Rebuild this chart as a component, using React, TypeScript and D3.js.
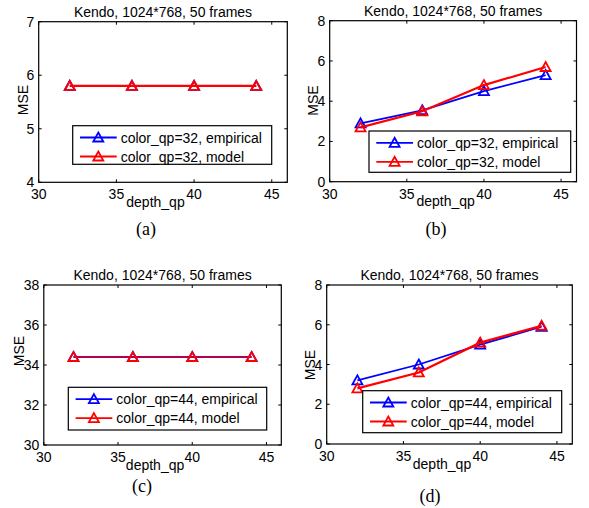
import React, { useEffect, useRef } from 'react';
import * as d3 from 'd3';

const DEPTH_QP = [32, 36, 40, 44];
const X_TICKS = [30, 35, 40, 45];

const EMPIRICAL_A = [5.8, 5.8, 5.8, 5.8];
const MODEL_A = [5.8, 5.8, 5.8, 5.8];
const EMPIRICAL_B = [2.9, 3.55, 4.5, 5.3];
const MODEL_B = [2.7, 3.5, 4.8, 5.7];
const EMPIRICAL_C = [34.4, 34.4, 34.4, 34.4];
const MODEL_C = [34.4, 34.4, 34.4, 34.4];
const EMPIRICAL_D = [3.2, 4.0, 5.0, 5.9];
const MODEL_D = [2.8, 3.6, 5.1, 5.95];

const Y_TICKS_A = [4, 5, 6, 7];
const Y_TICKS_B = [0, 2, 4, 6, 8];
const Y_TICKS_C = [30, 32, 34, 36, 38];
const Y_TICKS_D = [0, 2, 4, 6, 8];

const TITLE = "Kendo, 1024*768, 50 frames";
const X_LABEL = "depth_qp";
const Y_LABEL = "MSE";
const LEGEND_32 = ["color_qp=32, empirical", "color_qp=32, model"];
const LEGEND_44 = ["color_qp=44, empirical", "color_qp=44, model"];

// measured layout of each subplot (pixels)
const PANELS = [
    { empirical: EMPIRICAL_A, model: MODEL_A, yTicks: Y_TICKS_A, legend: LEGEND_32, caption: "(a)",
      box: [38.7, 21.7, 287.3, 182.3], leg: [72.7, 125.7, 271.7, 164.3], ylab: [27.8, 100], cap: [146, 235], modelOpacity: 1 },
    { empirical: EMPIRICAL_B, model: MODEL_B, yTicks: Y_TICKS_B, legend: LEGEND_32, caption: "(b)",
      box: [329.7, 20.7, 576.5, 181.7], leg: [369, 131, 570.7, 172.3], ylab: [317.5, 100.5], cap: [436, 235], modelOpacity: 1 },
    { empirical: EMPIRICAL_C, model: MODEL_C, yTicks: Y_TICKS_C, legend: LEGEND_44, caption: "(c)",
      box: [43.8, 285, 281.3, 445], leg: [68.3, 387.3, 266.7, 430], ylab: [24, 351], cap: [142, 492], modelOpacity: 0.7 },
    { empirical: EMPIRICAL_D, model: MODEL_D, yTicks: Y_TICKS_D, legend: LEGEND_44, caption: "(d)",
      box: [326.7, 285, 572.3, 444], leg: [362.7, 390.7, 561.7, 432.7], ylab: [314.5, 365], cap: [430, 502], modelOpacity: 1 },
];

const BLUE = "#0000ff";
const RED = "#ff0000";

function drawTriangle(g, cx, cy, color) {
    const s = 5;
    g.append("path")
        .attr("d", `M${cx},${cy - s} L${cx + s},${cy + s * 0.8} L${cx - s},${cy + s * 0.8} Z`)
        .attr("fill", "none")
        .attr("stroke", color)
        .attr("stroke-width", 1.8);
}

function App() {
    const svgRef = useRef(null);

    useEffect(() => {
        const svg = d3.select(svgRef.current);
        svg.selectAll("*").remove();

        PANELS.forEach(p => {
            const [x0, y0, x1, y1] = p.box;
            const yDomain = d3.extent(p.yTicks);
            const xScale = d3.scaleLinear().domain([30, 46]).range([x0, x1]);
            const yScale = d3.scaleLinear().domain(yDomain).range([y1, y0]);
            const g = svg.append("g");

            // ticks on all four sides, pointing inward
            X_TICKS.forEach(t => {
                const x = xScale(t);
                g.append("line").attr("x1", x).attr("x2", x).attr("y1", y1).attr("y2", y1 - 3)
                    .attr("stroke", "#000").attr("stroke-width", 1);
                g.append("line").attr("x1", x).attr("x2", x).attr("y1", y0).attr("y2", y0 + 3)
                    .attr("stroke", "#000").attr("stroke-width", 1);
                g.append("text").attr("x", x).attr("y", y1 + 17)
                    .attr("text-anchor", "middle").style("font-size", "14px").text(t);
            });
            p.yTicks.forEach(t => {
                const y = yScale(t);
                g.append("line").attr("x1", x0).attr("x2", x0 + 3).attr("y1", y).attr("y2", y)
                    .attr("stroke", "#000").attr("stroke-width", 1);
                g.append("line").attr("x1", x1).attr("x2", x1 - 3).attr("y1", y).attr("y2", y)
                    .attr("stroke", "#000").attr("stroke-width", 1);
                g.append("text").attr("x", x0 - 4.5).attr("y", y).attr("dy", "0.36em")
                    .attr("text-anchor", "end").style("font-size", "14px").text(t);
            });

            g.append("rect").attr("x", x0).attr("y", y0)
                .attr("width", x1 - x0).attr("height", y1 - y0)
                .attr("fill", "none").attr("stroke", "#000").attr("stroke-width", 1.2);

            const line = d3.line()
                .x((d, i) => xScale(DEPTH_QP[i]))
                .y(d => yScale(d));

            g.append("path").datum(p.empirical).attr("d", line)
                .attr("fill", "none").attr("stroke", BLUE).attr("stroke-width", 1.8);
            p.empirical.forEach((v, i) => drawTriangle(g, xScale(DEPTH_QP[i]), yScale(v), BLUE));

            g.append("path").datum(p.model).attr("d", line)
                .attr("fill", "none").attr("stroke", RED)
                .attr("stroke-width", p.modelOpacity < 1 ? 1.8 : 2.2)
                .attr("stroke-opacity", p.modelOpacity);
            p.model.forEach((v, i) => drawTriangle(g, xScale(DEPTH_QP[i]), yScale(v), RED));

            // title and axis labels
            g.append("text").attr("x", (x0 + x1) / 2).attr("y", y0 - 4.8)
                .attr("text-anchor", "middle").style("font-size", "14px").text(TITLE);
            g.append("text").attr("x", (x0 + x1) / 2 - 7.5).attr("y", y1 + 24.5)
                .attr("text-anchor", "middle").style("font-size", "14px").text(X_LABEL);
            g.append("text")
                .attr("transform", `translate(${p.ylab[0]},${p.ylab[1]}) rotate(-90)`)
                .attr("text-anchor", "middle").style("font-size", "14px").text(Y_LABEL);

            // legend
            const [lx0, ly0, lx1, ly1] = p.leg;
            g.append("rect").attr("x", lx0).attr("y", ly0)
                .attr("width", lx1 - lx0).attr("height", ly1 - ly0)
                .attr("fill", "#fff").attr("stroke", "#000").attr("stroke-width", 1.2);
            [BLUE, RED].forEach((color, i) => {
                const ry = ly0 + 11.8 + i * 19;
                g.append("line").attr("x1", lx0 + 7.3).attr("x2", lx0 + 44)
                    .attr("y1", ry).attr("y2", ry)
                    .attr("stroke", color).attr("stroke-width", 1.8);
                drawTriangle(g, lx0 + 25.6, ry, color);
                g.append("text").attr("x", lx0 + 48).attr("y", ry).attr("dy", "0.36em")
                    .style("font-size", "14px").text(p.legend[i]);
            });

            // caption
            svg.append("text").attr("x", p.cap[0]).attr("y", p.cap[1])
                .attr("text-anchor", "middle")
                .style("font-family", "'Liberation Serif', 'Times New Roman', serif")
                .style("font-size", "18px").text(p.caption);
        });
    }, []);

    return (
        <svg
            ref={svgRef}
            width={589}
            height={508}
            style={{ position: "absolute", left: 0, top: 0, background: "#fff",
                     fontFamily: "'Liberation Sans', Arial, Helvetica, sans-serif" }}
        />
    );
}

export default App;
